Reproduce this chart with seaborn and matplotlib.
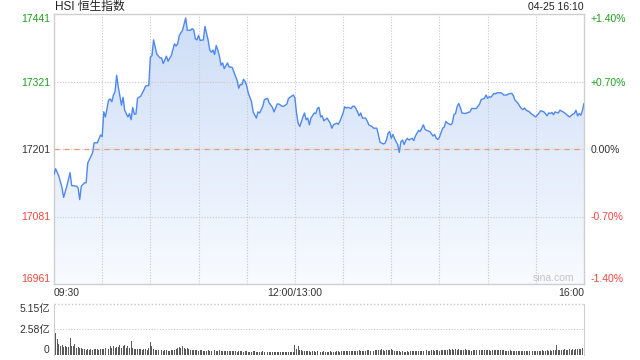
import numpy as np
import matplotlib
matplotlib.use("Agg")
import matplotlib.pyplot as plt
from matplotlib.colors import LinearSegmentedColormap
from matplotlib.patches import PathPatch
import seaborn as sns

# ---------------- data ----------------
minute = [0, 1, 3, 5, 6, 8, 10, 11, 14, 15, 16, 17, 19, 20, 21, 22, 24, 25, 27, 29,
          30, 31, 32, 34, 35, 36, 37, 38, 39, 40, 42, 43, 44, 46, 47, 48, 49, 50, 51, 52,
          54, 56, 57, 59, 60, 61, 62, 64, 66, 67, 68, 70, 71, 73, 75, 76, 77, 78, 80, 82,
          83, 85, 86, 87, 88, 89, 90, 91, 93, 94, 96, 97, 98, 99, 100, 101, 102, 103, 104, 105,
          106, 108, 109, 111, 112, 114, 115, 116, 117, 118, 119, 120, 121, 123, 124, 126, 127, 128, 130, 131,
          133, 134, 136, 137, 139, 140, 142, 143, 145, 146, 148, 149, 150, 151, 152, 153, 155, 156, 157, 158,
          159, 160, 162, 163, 164, 165, 166, 167, 168, 170, 172, 173, 174, 176, 177, 178, 180, 181, 182, 183,
          185, 186, 187, 188, 189, 190, 191, 192, 194, 195, 196, 198, 199, 201, 202, 203, 205, 206, 207, 208,
          209, 210, 211, 212, 213, 214, 215, 216, 217, 218, 219, 220, 221, 223, 224, 225, 227, 228, 230, 231,
          232, 234, 236, 237, 238, 239, 240, 242, 243, 244, 245, 247, 248, 249, 250, 251, 252, 253, 254, 256,
          258, 259, 260, 262, 263, 265, 266, 268, 269, 270, 271, 272, 274, 275, 276, 278, 279, 280, 282, 283,
          285, 286, 287, 289, 290, 291, 292, 293, 294, 296, 297, 299, 300, 302, 303, 305, 306, 307, 308, 309,
          310, 311, 312, 314, 315, 317, 318, 320, 321, 323, 324, 325, 326, 327, 328, 329, 330]
price = [17156, 17166, 17153, 17132, 17115, 17135, 17159, 17136, 17135, 17132, 17111, 17135, 17141, 17141, 17176, 17182, 17194, 17212, 17212, 17226,
         17223, 17267, 17258, 17288, 17290, 17285, 17297, 17303, 17332, 17312, 17279, 17293, 17270, 17258, 17264, 17253, 17275, 17263, 17263, 17291,
         17295, 17306, 17313, 17314, 17364, 17367, 17395, 17370, 17363, 17363, 17353, 17366, 17357, 17367, 17388, 17384, 17388, 17403, 17412, 17434,
         17412, 17412, 17415, 17413, 17397, 17395, 17403, 17394, 17395, 17419, 17394, 17377, 17373, 17377, 17369, 17385, 17377, 17366, 17350, 17354,
         17344, 17354, 17347, 17346, 17338, 17323, 17309, 17316, 17315, 17325, 17321, 17313, 17300, 17285, 17267, 17256, 17267, 17265, 17277, 17289,
         17291, 17283, 17275, 17267, 17281, 17281, 17277, 17277, 17281, 17291, 17295, 17297, 17292, 17265, 17247, 17241, 17258, 17265, 17253, 17256,
         17244, 17256, 17265, 17264, 17273, 17275, 17258, 17260, 17251, 17256, 17247, 17238, 17244, 17247, 17245, 17250, 17265, 17276, 17274, 17275,
         17273, 17277, 17277, 17273, 17267, 17260, 17265, 17256, 17256, 17251, 17244, 17241, 17238, 17238, 17226, 17213, 17210, 17211, 17217, 17229,
         17232, 17220, 17227, 17220, 17214, 17209, 17195, 17214, 17217, 17209, 17216, 17220, 17217, 17220, 17216, 17224, 17234, 17232, 17244, 17236,
         17234, 17232, 17224, 17227, 17220, 17218, 17222, 17238, 17240, 17250, 17247, 17244, 17247, 17262, 17264, 17276, 17282, 17275, 17265, 17264,
         17266, 17267, 17273, 17273, 17273, 17281, 17289, 17291, 17297, 17291, 17294, 17293, 17300, 17299, 17301, 17301, 17300, 17297, 17297, 17299,
         17300, 17296, 17288, 17282, 17277, 17273, 17271, 17274, 17270, 17267, 17264, 17260, 17258, 17265, 17269, 17267, 17264, 17260, 17265, 17264,
         17266, 17262, 17267, 17265, 17270, 17267, 17265, 17260, 17258, 17263, 17264, 17270, 17260, 17264, 17261, 17269, 17282]

# volume per minute, in 亿
volume = [5.15, 2.25, 1.58, 1.10, 0.90, 1.00, 0.85, 0.92, 0.80, 0.78, 1.68, 0.90, 0.88, 1.10, 0.75, 0.80, 0.72, 0.70, 0.65, 0.60,
          0.55, 0.58, 0.52, 0.60, 0.55, 0.62, 0.58, 0.60, 0.55, 0.62, 0.65, 0.60, 0.70, 0.85, 0.62, 0.88, 0.75, 0.95, 0.70, 0.85,
          0.80, 1.00, 0.75, 0.95, 1.05, 0.70, 0.90, 0.75, 1.45, 0.70, 0.65, 0.62, 0.60, 0.65, 0.58, 0.55, 0.62, 0.60, 0.55, 0.70,
          1.35, 0.90, 0.60, 0.55, 0.52, 0.50, 0.48, 0.50, 0.45, 0.48, 0.50, 0.45, 0.42, 0.48, 0.50, 0.55, 0.60, 0.72, 0.85, 0.70,
          0.88, 0.75, 0.65, 0.70, 0.60, 0.55, 0.50, 0.52, 0.48, 0.50, 0.45, 0.48, 0.50, 0.45, 0.42, 0.45, 0.48, 0.42, 0.40, 0.45,
          0.50, 0.45, 0.42, 0.48, 0.45, 0.40, 0.42, 0.45, 0.40, 0.38, 0.42, 0.45, 0.40, 0.38, 0.35, 0.40, 0.42, 0.38, 0.35, 0.40,
          0.38, 0.35, 0.32, 0.35, 0.38, 0.40, 0.35, 0.32, 0.30, 0.35, 0.38, 0.35, 0.32, 0.30, 0.28, 0.32, 0.35, 0.30, 0.28, 0.32,
          0.30, 0.28, 0.32, 0.30, 0.28, 0.30, 0.35, 0.32, 0.30, 0.28,
          1.00, 0.60, 0.95, 0.55, 0.50, 0.45, 0.40, 0.42, 0.38, 0.40, 0.35, 0.38, 0.40, 0.35, 0.38, 0.35, 0.32, 0.35, 0.38, 0.35,
          0.32, 0.35, 0.38, 0.35, 0.32, 0.35, 0.40, 0.38, 0.35, 0.40, 0.42, 0.38, 0.40, 0.45, 0.42, 0.40, 0.38, 0.42, 0.40, 0.45,
          0.48, 0.42, 0.45, 0.40, 0.45, 0.50, 0.48, 0.45, 0.42, 0.45, 0.48, 0.50, 0.55, 0.48, 0.60, 0.50, 0.45, 0.50, 0.55, 0.48,
          0.65, 0.50, 0.45, 0.42, 0.40, 0.38, 0.35, 0.38, 0.32, 0.35, 0.38, 0.35, 0.40, 0.38, 0.42, 0.40, 0.45, 0.42, 0.40, 0.45,
          0.42, 0.45, 0.48, 0.45, 0.42, 0.48, 0.50, 0.45, 0.48, 0.50, 0.45, 0.48, 0.52, 0.50, 0.55, 0.50, 0.58, 0.52, 0.60, 0.55,
          0.62, 0.55, 0.58, 0.52, 0.55, 0.50, 0.58, 0.52, 0.48, 0.50, 0.45, 0.48, 0.52, 0.50, 0.55, 0.52, 0.50, 0.48, 0.55, 0.52,
          0.50, 0.48, 0.45, 0.50, 0.55, 0.52, 0.48, 0.50, 0.55, 0.50, 0.48, 0.45, 0.42, 0.45, 0.48, 0.45, 0.42, 0.40, 0.42, 0.45,
          0.40, 0.42, 0.38, 0.40, 0.42, 0.45, 0.40, 0.38, 0.42, 0.40, 0.45, 0.42, 0.40, 0.45, 0.48, 0.42, 0.45, 0.50, 0.45, 0.48,
          0.45, 0.50, 0.48, 1.00, 0.52, 0.50, 0.55, 0.52, 0.58, 0.55, 0.50, 0.58, 0.55, 0.60, 0.55, 0.62, 0.58, 0.60, 0.65, 0.70, 4.37]

prev_close = 17201
price_ticks = [16961, 17081, 17201, 17321, 17441]
pct_labels = ["-1.40%", "-0.70%", "0.00%", "+0.70%", "+1.40%"]
time_ticks = [0, 150, 330]
time_labels = ["09:30", "12:00/13:00", "16:00"]
vol_ticks = [0, 2.58, 5.15]
vol_labels = ["0", "2.58亿", "5.15亿"]
title = "HSI 恒生指数"
stamp = "04-25 16:10"

# ---------------- style ----------------
sns.set_style("white")
plt.rcParams["font.family"] = ["Liberation Sans", "Noto Sans CJK SC", "DejaVu Sans"]

W, H = 640, 360
fig = plt.figure(figsize=(6.4, 3.6), dpi=100)

def fx(x):
    return x / W

def fy(y):
    return 1 - y / H

GREEN = "#1f9e1f"
RED = "#f0463c"
DARK = "#333333"
GRID = "#c8c8c8"
BORDER = "#cfcfcf"
LINE = "#4f88ee"

L, R = 54, 584
ax = fig.add_axes([fx(L), fy(284), fx(R - L), fy(14) - fy(284)])
ax.set_xlim(0, 330)
ax.set_ylim(16961, 17441)

# gradient fill under the line
poly = ax.fill_between(minute, price, 16961, color="none", lw=0)
path = poly.get_paths()[0]
clip = PathPatch(path, transform=ax.transData, facecolor="none", edgecolor="none")
ax.add_patch(clip)
cmap = LinearSegmentedColormap.from_list("g", ["#f8fbff", "#e3ecfb", "#ccddf7"])
grad = np.linspace(0, 1, 256).reshape(-1, 1)
im = ax.imshow(grad, extent=[0, 330, 16961, 17441], origin="lower", aspect="auto",
               cmap=cmap, zorder=1, interpolation="bicubic")
im.set_clip_path(clip)

# grid
for m in range(30, 330, 30):
    ax.axvline(m, color=GRID, lw=0.8, ls=(0, (1, 1.5)), zorder=2)
for v in [17081, 17201, 17321]:
    ax.axhline(v, color=GRID, lw=0.8, ls=(0, (1, 1.5)), zorder=2)
ax.axhline(prev_close, color="#e89a72", lw=0.9, ls=(0, (4, 4)), zorder=2)

sns.lineplot(x=minute, y=price, ax=ax, color=LINE, lw=1.0, zorder=3)

for s in ax.spines.values():
    s.set_color(BORDER)
    s.set_linewidth(1.0)

ax.set_yticks(price_ticks)
ax.set_yticklabels([str(v) for v in price_ticks])
ax.tick_params(axis="y", length=0, pad=3, labelsize=7.5)
for lab, v in zip(ax.get_yticklabels(), price_ticks):
    lab.set_color(GREEN if v > prev_close else (RED if v < prev_close else DARK))
ax.get_yticklabels()[0].set_va("bottom")
ax.get_yticklabels()[-1].set_va("top")

ax.set_xticks(time_ticks)
ax.set_xticklabels(time_labels)
ax.tick_params(axis="x", length=0, pad=3, labelsize=7.5, labelcolor=DARK)
xl = ax.get_xticklabels()
xl[0].set_ha("left")
xl[-1].set_ha("right")
ax.set_xlabel("")
ax.set_ylabel("")

ax2 = ax.twinx()
ax2.set_ylim(16961, 17441)
ax2.set_yticks(price_ticks)
ax2.set_yticklabels(pct_labels)
ax2.tick_params(axis="y", length=0, pad=5, labelsize=7.5)
for lab, v in zip(ax2.get_yticklabels(), price_ticks):
    lab.set_color(GREEN if v > prev_close else (RED if v < prev_close else DARK))
ax2.get_yticklabels()[0].set_va("bottom")
ax2.get_yticklabels()[-1].set_va("top")
for s in ax2.spines.values():
    s.set_visible(False)

ax.text(0.982, 0.005, "sina.com", transform=ax.transAxes, ha="right", va="bottom",
        fontsize=7.5, color="#c4c4c4", zorder=4)

fig.text(fx(55), fy(7), title, ha="left", va="center", fontsize=8.5, color="#222222")
fig.text(fx(584), fy(7), stamp, ha="right", va="center", fontsize=7.5, color="#222222")

# ---------------- volume panel ----------------
axv = fig.add_axes([fx(L), fy(355), fx(R - L), fy(304) - fy(355)])
axv.set_xlim(0, 330)
axv.set_ylim(0, 5.15)
axv.bar(np.arange(len(volume)), volume, width=0.6, color="#5a5a5a", lw=0, zorder=3)
axv.axhline(2.58, color=GRID, lw=0.8, ls=(0, (1, 1.5)), zorder=1)
axv.axhline(5.15, color=GRID, lw=1.0, ls=(0, (1, 1.5)), zorder=1, clip_on=False)
for k in ["top", "bottom"]:
    axv.spines[k].set_visible(False)
for k in ["left", "right"]:
    axv.spines[k].set_color(BORDER)
axv.set_xticks([])
axv.set_yticks(vol_ticks)
axv.set_yticklabels(vol_labels)
axv.tick_params(axis="y", length=0, pad=3, labelsize=7.5, labelcolor=DARK)
vl = axv.get_yticklabels()
vl[0].set_va("bottom")
vl[-1].set_va("top")

fig.savefig("out.png", dpi=100)
